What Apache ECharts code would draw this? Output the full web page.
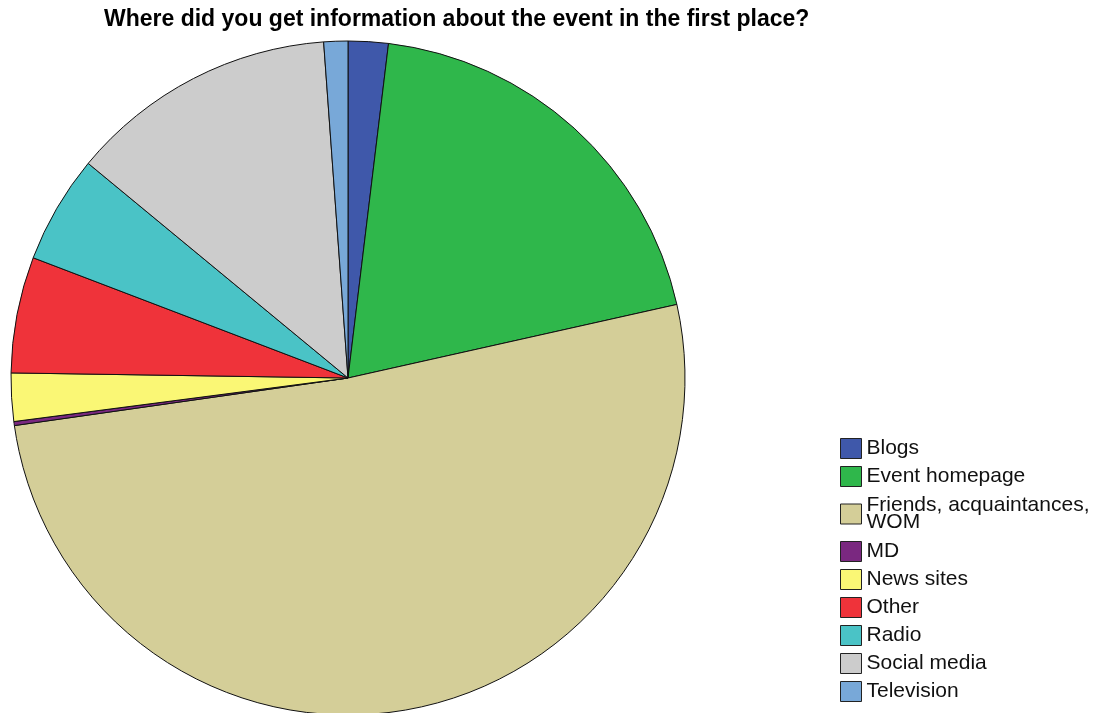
<!DOCTYPE html>
<html>
<head>
<meta charset="utf-8">
<script src="https://cdn.jsdelivr.net/npm/echarts@6/dist/echarts.min.js"></script>
<style>
  html, body { margin: 0; padding: 0; background: #fff; }
  #chart { width: 1111px; height: 713px; }
</style>
</head>
<body>
<div id="chart"></div>
<script>
// Survey answers: where respondents first heard about the event (counts)
const categories = [
  'Blogs',
  'Event homepage',
  'Friends, acquaintances,\nWOM',
  'MD',
  'News sites',
  'Other',
  'Radio',
  'Social media',
  'Television'
];
const counts = [10, 102, 267, 1, 12, 29, 27, 67, 6];
const sliceColors = [
  '#3f58aa', '#2fb74b', '#d4ce98', '#7a2880', '#faf775',
  '#ef333a', '#4ac3c6', '#cccccc', '#78a8d8'
];

const pieData = categories.map((name, i) => ({
  name: name,
  value: counts[i],
  itemStyle: { color: sliceColors[i] }
}));

const legendData = categories.map(name => {
  const item = { name: name };
  if (name.indexOf('\n') >= 0) {
    item.textStyle = { padding: [3, 0, 3, 0] };
  }
  return item;
});

const chart = echarts.init(document.getElementById('chart'), null, { renderer: 'canvas' });
chart.setOption({
  animation: false,
  backgroundColor: '#ffffff',
  title: {
    text: 'Where did you get information about the event in the first place?',
    left: 104,
    top: 8,
    padding: 0,
    textStyle: {
      fontFamily: 'Liberation Sans, Arial, sans-serif',
      fontSize: 23,
      fontWeight: 'bold',
      color: '#000'
    }
  },
  legend: {
    orient: 'vertical',
    left: 840,
    top: 438,
    padding: 0,
    itemWidth: 21,
    itemHeight: 20,
    itemGap: 7,
    icon: 'rect',
    selectedMode: false,
    data: legendData,
    itemStyle: { borderColor: '#222', borderWidth: 1 },
    textStyle: {
      fontFamily: 'Liberation Sans, Arial, sans-serif',
      fontSize: 21,
      lineHeight: 17,
      color: '#111'
    }
  },
  series: [{
    type: 'pie',
    center: [348, 378],
    radius: 337,
    startAngle: 90,
    clockwise: true,
    avoidLabelOverlap: false,
    label: { show: false },
    labelLine: { show: false },
    emphasis: { disabled: true },
    itemStyle: { borderColor: '#111', borderWidth: 1 },
    data: pieData
  }]
});
</script>
</body>
</html>
